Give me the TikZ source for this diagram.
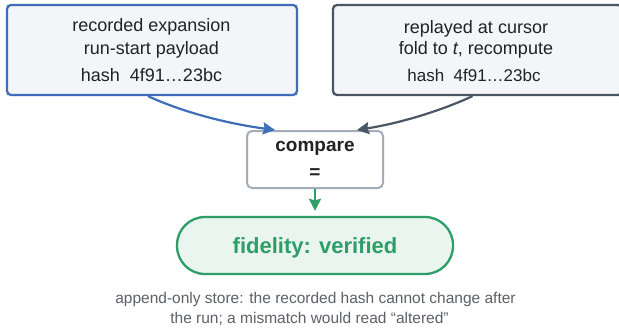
\documentclass[tikz,border=0pt]{standalone}
\usepackage{fontspec}
\setmainfont{Liberation Sans}
\usetikzlibrary{arrows.meta}
\definecolor{bluel}{HTML}{3D6EB7}
\definecolor{slatel}{HTML}{4B5665}
\definecolor{grayl}{HTML}{A3ACB9}
\definecolor{greenl}{HTML}{2E9E68}
\definecolor{greenf}{HTML}{E9F5EE}
\definecolor{boxf}{HTML}{F3F5F8}
\definecolor{txtc}{HTML}{222222}
\definecolor{notec}{HTML}{5C6168}
\tikzset{
  srcbox/.style={draw, rectangle, rounded corners=4pt, line width=2.3pt, fill=boxf, minimum width=#1, minimum height=90pt, inner sep=0pt},
  cmpbox/.style={draw=grayl, rectangle, rounded corners=5pt, line width=2pt, fill=white, minimum width=136pt, minimum height=57pt, inner sep=0pt},
  pillbox/.style={draw=greenl, rectangle, rounded corners=28pt, line width=2.3pt, fill=greenf, minimum width=276pt, minimum height=57pt, inner sep=0pt},
  txt/.style={anchor=base, inner sep=0pt, text=txtc, font=\fontsize{18}{22}\selectfont},
  btxt/.style={anchor=base, inner sep=0pt, text=txtc, font=\fontsize{19}{22}\selectfont\bfseries},
  notetxt/.style={anchor=base, inner sep=0pt, text=notec, font=\fontsize{15.5}{18}\selectfont},
  tipA/.style={-{Stealth[length=12pt,width=12pt,inset=1.5pt]}, line width=2.2pt},
}
\begin{document}
\begin{tikzpicture}[x=1pt,y=-1pt]
\useasboundingbox (0,0) rectangle (619,335);
\clip (0,0) rectangle (619,335);
\fill[white] (0,0) rectangle (619,335);
% source boxes
\node[srcbox=290pt, draw=bluel] (rec) at (152,50) {};
\node[srcbox=289pt, draw=slatel] (rep) at (477.5,50) {};
\node[txt] (rec1) at (151.5,31) {recorded expansion};
\node[txt] (rec2) at (151.5,54) {run-start payload};
\node[txt] (rec3) at (151.5,81) {hash\ \ 4f91…23bc};
\node[txt] (rep1) at (476,33) {replayed at cursor};
\node[txt] (rep2) at (476,54) {fold to \textit{t}, recompute};
\node[txt, font=\fontsize{17}{20}\selectfont] (rep3) at (474,81) {hash\ \ 4f91…23bc};
% compare
\node[cmpbox] (cmp) at (315,159.5) {};
\node[btxt] (cmp1) at (315,151) {compare};
\node[btxt] (cmp2) at (315,178) {=};
% result
\node[pillbox] (pill) at (315,245.5) {};
\node[anchor=base, inner sep=0pt, text=greenl, font=\fontsize{22}{26}\selectfont\bfseries] (pilltxt) at (315,253) {fidelity: verified};
% connectors
\draw[tipA, bluel] ([xshift=-4pt]rec.south) .. controls +(37,17) and +(-45,-6) .. ([xshift=-40pt]cmp.north);
\draw[tipA, slatel] ([xshift=-5pt]rep.south) .. controls +(-37,17) and +(38,-6) .. ([xshift=42pt]cmp.north);
\draw[tipA, greenl, line width=2pt] (cmp.south) -- ([yshift=5pt]pill.north);
% note
\node[notetxt] (note1) at (315.5,303) {append-only store: the recorded hash cannot change after};
\node[notetxt] (note2) at (309.5,323) {the run; a mismatch would read “altered”};
\end{tikzpicture}
\end{document}
